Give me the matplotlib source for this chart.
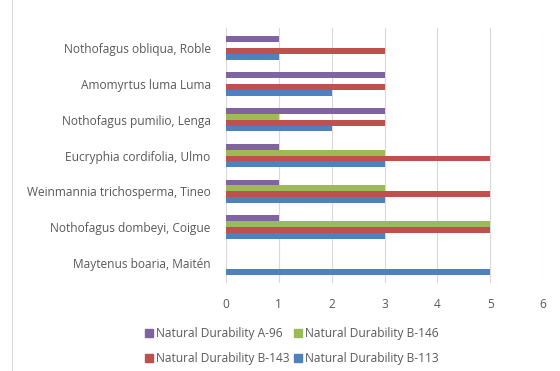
import numpy as np
from matplotlib import pyplot as plt
from matplotlib.lines import Line2D

species = ["Maytenus boaria, Maitén", "Nothofagus dombeyi, Coigue",
           "Weinmannia trichosperma, Tineo", "Eucryphia cordifolia, Ulmo",
           "Nothofagus pumilio, Lenga", "Amomyrtus luma Luma",
           "Nothofagus obliqua, Roble"]
b113 = [5, 3, 3, 3, 2, 2, 1]
b143 = [0, 5, 5, 5, 3, 3, 3]
b146 = [0, 5, 3, 3, 1, 0, 0]
a96 = [0, 1, 1, 1, 3, 3, 1]

series = [("Natural Durability B-113", b113, "#4F81BD"),
          ("Natural Durability B-143", b143, "#C0504D"),
          ("Natural Durability B-146", b146, "#9BBB59"),
          ("Natural Durability A-96", a96, "#8064A2")]

plt.rcParams['font.family'] = ['Open Sans', 'DejaVu Sans']
txt = "#595959"
fs = 8.6

fig = plt.figure(figsize=(5.6, 3.71), dpi=100)
ax = fig.add_axes([226/560, 1-283/371, (543-226)/560, (283-28)/371])

y = np.arange(len(species))
h = 0.165
for k, (name, vals, col) in enumerate(series):
    ax.barh(y + (k - 1.5) * h, vals, height=h, color=col, label=name)

ax.set_xlim(0, 6)
ax.set_ylim(-0.55, len(species) - 0.45)
ax.set_xticks(range(7))
ax.set_yticks(y)
ax.set_yticklabels(species)
ax.tick_params(axis='both', length=0, labelsize=fs, colors=txt)
ax.tick_params(axis='x', pad=11)
ax.tick_params(axis='y', pad=11)
ax.grid(axis='x', color="#D9D9D9", lw=0.8)
ax.set_axisbelow(True)
for s in ax.spines.values():
    s.set_visible(False)

# legend, two rows (column-major fill)
handles = {name: col for name, vals, col in series}
order = ["Natural Durability A-96", "Natural Durability B-143",
         "Natural Durability B-146", "Natural Durability B-113"]
hl = [Line2D([], [], marker='s', ls='', color=handles[n], markersize=5.5) for n in order]
leg = fig.legend(hl, order, loc='center', bbox_to_anchor=(291/560, 1-346/371), ncol=2,
                 frameon=False, fontsize=fs, handletextpad=0.1, columnspacing=0.2,
                 labelspacing=1.05, handlelength=1.0)
for t in leg.get_texts():
    t.set_color(txt)

# chart border on the left
fig.add_artist(Line2D([12/560, 12/560], [0, 1], color="#D9D9D9", lw=0.8))

fig.savefig("out.png", dpi=100)
